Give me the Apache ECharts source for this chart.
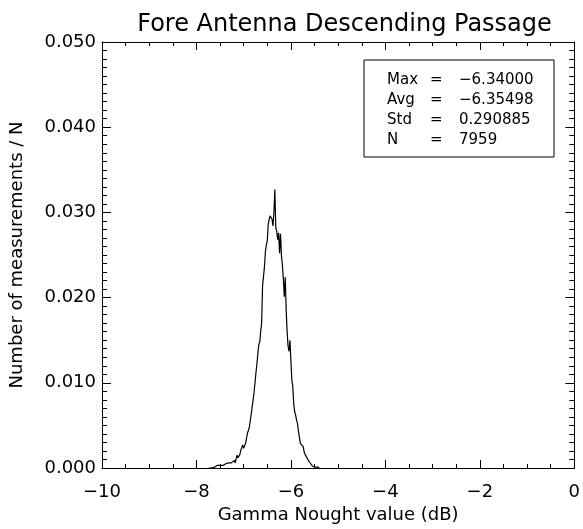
<!DOCTYPE html>
<html>
<head>
<meta charset="utf-8">
<script src="https://cdn.jsdelivr.net/npm/echarts@6/dist/echarts.min.js"></script>
<style>
html,body{margin:0;padding:0;background:#fff;}
#chart{width:583px;height:529px;}
</style>
</head>
<body>
<div id="chart"></div>
<script>
// Histogram bins (dB), bin width 0.02 starting at -7.74
const binStart = -7.74;
const binWidth = 0.02;
const fractions = [
  0.0000,0.0001,0.0001,0.0000,0.0001,0.0002,0.0001,0.0000,0.0002,0.0003,
  0.0001,0.0001,0.0003,0.0002,0.0004,0.0003,0.0001,0.0003,0.0005,0.0004,
  0.0007,0.0006,0.0005,0.0007,0.0006,0.0004,0.0008,0.0009,0.0006,0.0008,
  0.0015,0.0012,0.0010,0.0016,0.0021,0.0024,0.0027,0.0023,0.0026,0.0029,
  0.0035,0.0041,0.0044,0.0048,0.0056,0.0063,0.0072,0.0080,0.0089,0.0100,
  0.0112,0.0122,0.0134,0.0145,0.0148,0.0160,0.0170,0.0214,0.0216,0.0236,
  0.0254,0.0262,0.0267,0.0286,0.0292,0.0296,0.0298,0.0292,0.0284,0.0300,
  0.0327,0.0282,0.0278,0.0268,0.0276,0.0252,0.0275,0.0249,0.0238,0.0222,
  0.0201,0.0224,0.0185,0.0160,0.0143,0.0137,0.0150,0.0125,0.0103,0.0096,
  0.0075,0.0066,0.0062,0.0056,0.0052,0.0043,0.0036,0.0029,0.0030,0.0027,
  0.0025,0.0019,0.0016,0.0014,0.0012,0.0010,0.0008,0.0006,0.0005,0.0003,
  0.0002,0.0002,0.0001,0.0001,0.0001,0.0000,0.0001,0.0000
];
const xTicks = [-10, -8, -6, -4, -2, 0];
const yTicks = [0.000, 0.010, 0.020, 0.030, 0.040, 0.050];
const statLabels = ['Max', 'Avg', 'Std', 'N'];
const statValues = ['\u22126.34000', '\u22126.35498', '0.290885', '7959'];
const titleText = 'Fore Antenna Descending Passage';
const xName = 'Gamma Nought value (dB)';
const yName = 'Number of measurements / N';

const data = fractions.map((v, i) => [+(binStart + i * binWidth).toFixed(2), v]);

const FONT = 'DejaVu Sans';
const chart = echarts.init(document.getElementById('chart'), null, {renderer: 'canvas'});

function xAxisDef(pos, showLabel) {
  return {
    type: 'value', position: pos,
    min: xTicks[0], max: xTicks[xTicks.length - 1], interval: 2,
    axisLine: {show: true, onZero: false, lineStyle: {color: '#000', width: 1}},
    axisTick: {show: true, inside: true, length: 8, lineStyle: {color: '#000', width: 1}},
    minorTick: {show: true, splitNumber: 4, length: 4, lineStyle: {color: '#000', width: 1}},
    splitLine: {show: false},
    axisLabel: {show: showLabel, color: '#000', fontFamily: FONT, fontSize: 18, margin: 15,
      formatter: v => String(v).replace('-', '\u2212')},
    name: showLabel ? xName : '',
    nameLocation: 'middle', nameGap: 38,
    nameTextStyle: {color: '#000', fontFamily: FONT, fontSize: 18}
  };
}
function yAxisDef(pos, showLabel) {
  return {
    type: 'value', position: pos,
    min: yTicks[0], max: yTicks[yTicks.length - 1], interval: 0.01,
    axisLine: {show: true, onZero: false, lineStyle: {color: '#000', width: 1}},
    axisTick: {show: true, inside: true, length: 9, lineStyle: {color: '#000', width: 1}},
    minorTick: {show: true, splitNumber: 10, length: 5, lineStyle: {color: '#000', width: 1}},
    splitLine: {show: false},
    axisLabel: {show: showLabel, color: '#000', fontFamily: FONT, fontSize: 18, margin: 6,
      formatter: v => v.toFixed(3)},
    name: showLabel ? yName : '',
    nameLocation: 'middle', nameGap: 76, nameRotate: 90,
    nameTextStyle: {color: '#000', fontFamily: FONT, fontSize: 18}
  };
}

const boxLeft = 364, boxTop = 60, rowH = 20;
const graphics = [{
  type: 'rect', shape: {x: boxLeft, y: boxTop, width: 190, height: 97},
  style: {fill: '#fff', stroke: '#000', lineWidth: 1}, z: 10
}];
statLabels.forEach((lab, i) => {
  const cy = boxTop + 20 + i * rowH;
  graphics.push({type: 'text', x: boxLeft + 23, y: cy, z: 11,
    style: {text: lab, fill: '#000', font: '15px "DejaVu Sans"', verticalAlign: 'middle'}});
  graphics.push({type: 'text', x: boxLeft + 66, y: cy, z: 11,
    style: {text: '=', fill: '#000', font: '15px "DejaVu Sans"', verticalAlign: 'middle'}});
  graphics.push({type: 'text', x: boxLeft + 95, y: cy, z: 11,
    style: {text: statValues[i], fill: '#000', font: '15px "DejaVu Sans"', verticalAlign: 'middle'}});
});

chart.setOption({
  animation: false,
  backgroundColor: '#fff',
  title: {
    text: titleText, left: 339.5, top: 8, textAlign: 'center',
    textStyle: {color: '#000', fontFamily: FONT, fontSize: 24, fontWeight: 'normal'}
  },
  grid: {left: 102, right: 6, top: 42, bottom: 59, containLabel: false},
  xAxis: [xAxisDef('bottom', true), xAxisDef('top', false)],
  yAxis: [yAxisDef('left', true), yAxisDef('right', false)],
  series: [{
    type: 'line', xAxisIndex: 0, yAxisIndex: 0,
    data: data, showSymbol: false, symbol: 'none',
    lineStyle: {color: '#000', width: 1.2}
  }],
  graphic: graphics
});
</script>
</body>
</html>
